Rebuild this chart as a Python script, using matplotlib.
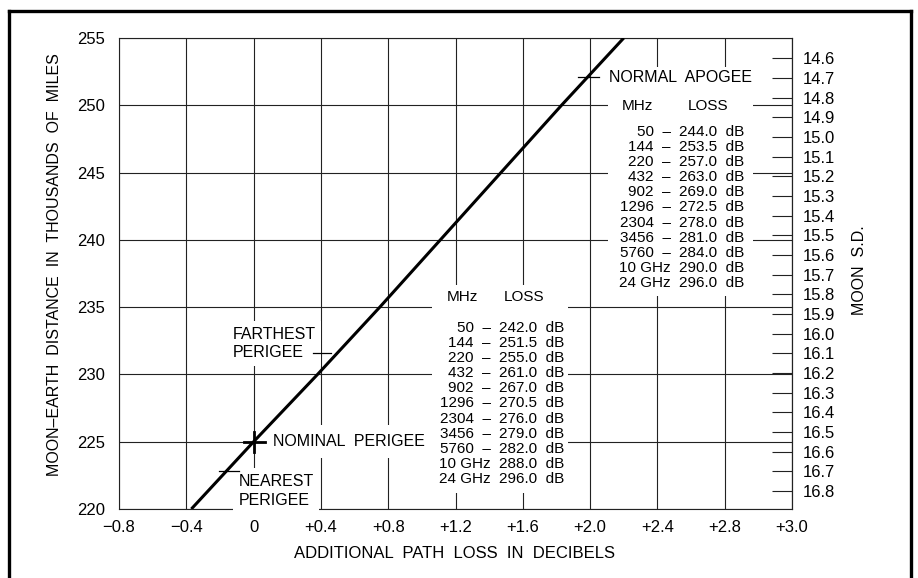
import matplotlib
matplotlib.use("Agg")
import matplotlib.pyplot as plt
from matplotlib.patches import Rectangle
from matplotlib.lines import Line2D

plt.rcParams['font.family'] = ['Liberation Sans', 'DejaVu Sans']

# Moon-Earth distance (thousands of miles) against additional path loss (dB)
distance_k_miles = [220, 225, 230, 235, 240, 245, 250, 255]
added_loss_db = [-0.37, 0.00, 0.38, 0.75, 1.11, 1.47, 1.83, 2.20]

x_ticks = [-0.8, -0.4, 0.0, 0.4, 0.8, 1.2, 1.6, 2.0, 2.4, 2.8, 3.2]
x_tick_labels = ["\u22120.8", "\u22120.4", "0", "+0.4", "+0.8", "+1.2",
                 "+1.6", "+2.0", "+2.4", "+2.8", "+3.0"]
y_ticks = [220, 225, 230, 235, 240, 245, 250, 255]

# Moon semi-diameter scale on the right, tied to the distance scale
moon_sd_ticks = [14.6, 14.7, 14.8, 14.9, 15.0, 15.1, 15.2, 15.3, 15.4, 15.5,
                 15.6, 15.7, 15.8, 15.9, 16.0, 16.1, 16.2, 16.3, 16.4, 16.5,
                 16.6, 16.7, 16.8]
sd_first, dist_at_sd_first = 14.6, 253.5
sd_last, dist_at_sd_last = 16.8, 221.35

# EME path loss tables
freq_labels = ["50", "144", "220", "432", "902", "1296", "2304", "3456",
               "5760", "10 GHz", "24 GHz"]
loss_apogee = [244.0, 253.5, 257.0, 263.0, 269.0, 272.5, 278.0, 281.0,
               284.0, 290.0, 296.0]
loss_perigee = [242.0, 251.5, 255.0, 261.0, 267.0, 270.5, 276.0, 279.0,
                282.0, 288.0, 296.0]

# Orbit reference distances (thousands of miles)
apogee_normal = 252.1
perigee_farthest = 231.6
perigee_nominal = 225.0
perigee_nearest = 222.8

W, H = 918, 578
fig = plt.figure(figsize=(W / 100, H / 100), dpi=100)
ax = fig.add_axes([119 / W, 1 - 509 / H, 673 / W, 471 / H])

ax.set_xlim(-0.8, 3.2)
ax.set_ylim(220, 255)
ax.set_xticks(x_ticks)
ax.set_xticklabels(x_tick_labels)
ax.set_yticks(y_ticks)
ax.tick_params(axis='both', length=0, labelsize=12)
ax.tick_params(axis='y', pad=10)
ax.tick_params(axis='x', pad=8)
ax.set_axisbelow(True)
ax.grid(True, color='#222222', linewidth=0.8)
for s in ax.spines.values():
    s.set_color('#222222')
    s.set_linewidth(0.8)

# main loss line
ax.plot(added_loss_db, distance_k_miles, color='black', linewidth=2.2,
        solid_capstyle='butt', zorder=5)

# white backing behind the two tables
mask = dict(facecolor='white', edgecolor='none', zorder=2)
ax.add_patch(Rectangle((2.105, 235.85), 0.865, 17.0, **mask))
ax.add_patch(Rectangle((1.06, 221.2), 0.81, 15.45, **mask))

row_step = 1.122
tbl_font = 11


def draw_table(x_freq_right, x_loss_left, x_mhz, x_loss_hdr, y_hdr, y_first, losses):
    ax.text(x_mhz, y_hdr, "MHz", ha='center', va='center', fontsize=tbl_font, zorder=6)
    ax.text(x_loss_hdr, y_hdr, "LOSS", ha='center', va='center', fontsize=tbl_font, zorder=6)
    for i, (f, v) in enumerate(zip(freq_labels, losses)):
        y = y_first - i * row_step
        lab = f if "GHz" in f else f + "  \u2013"
        ax.text(x_freq_right, y, lab, ha='right', va='center', fontsize=tbl_font, zorder=6)
        ax.text(x_loss_left, y, f"{v:.1f}  dB", ha='left', va='center',
                fontsize=tbl_font, zorder=6)


draw_table(2.478, 2.526, 2.282, 2.704, 249.95, 248.02, loss_apogee)
draw_table(1.409, 1.456, 1.242, 1.605, 235.76, 233.45, loss_perigee)

# orbit annotations
ann_font = 11.5
box = dict(boxstyle='square,pad=0.35', facecolor='white', edgecolor='none')
ax.text(2.11, apogee_normal, "NORMAL  APOGEE", ha='left', va='center',
        fontsize=ann_font, zorder=6)
ax.text(-0.125, perigee_farthest + 0.7, "FARTHEST\nPERIGEE", ha='left', va='center',
        fontsize=ann_font, linespacing=1.3, bbox=box, zorder=4)
ax.text(0.113, perigee_nominal, "NOMINAL  PERIGEE", ha='left', va='center',
        fontsize=ann_font, bbox=dict(boxstyle='square,pad=0.55', facecolor='white',
                                     edgecolor='none'), zorder=4)
ax.text(-0.089, perigee_nearest - 1.45, "NEAREST\nPERIGEE", ha='left', va='center',
        fontsize=ann_font, linespacing=1.3, bbox=box, zorder=4)

# short horizontal markers at the orbit distances
seg = dict(color='black', linewidth=0.9, zorder=5)
ax.plot([1.93, 2.05], [apogee_normal] * 2, **seg)
ax.plot([0.351, 0.458], [perigee_farthest] * 2, **seg)
ax.plot([-0.208, -0.089], [perigee_nearest] * 2, **seg)
# nominal perigee cross
ax.plot([-0.06, 0.07], [perigee_nominal] * 2, color='black', linewidth=2.0, zorder=6)
ax.plot([0.0, 0.0], [perigee_nominal - 0.8, perigee_nominal + 0.75],
        color='black', linewidth=2.0, zorder=6)

# Moon semi-diameter axis
k = (sd_last - sd_first) / (dist_at_sd_first - dist_at_sd_last)


def dist_to_sd(d):
    return sd_first + (dist_at_sd_first - d) * k


def sd_to_dist(sd):
    return dist_at_sd_first - (sd - sd_first) / k


sec = ax.secondary_yaxis('right', functions=(dist_to_sd, sd_to_dist))
sec.set_yticks(moon_sd_ticks)
sec.set_yticklabels([f"{v:.1f}" for v in moon_sd_ticks])
sec.minorticks_off()
sec.tick_params(axis='y', direction='in', length=14.4, width=0.8, pad=8,
                labelsize=12, color='#222222')
sec.spines['right'].set_color('#222222')
sec.spines['right'].set_linewidth(0.8)

# axis titles
fig.text(55 / W, 1 - 265 / H, "MOON\u2013EARTH  DISTANCE  IN  THOUSANDS  OF  MILES",
         rotation=90, ha='center', va='center', fontsize=11.5)
fig.text(455 / W, 1 - 553 / H, "ADDITIONAL  PATH  LOSS  IN  DECIBELS",
         ha='center', va='center', fontsize=12)
fig.text(860 / W, 1 - 270 / H, "MOON  S.D.", rotation=90, ha='center',
         va='center', fontsize=11.5)

# drawing border
frame = dict(color='black', linewidth=2.4, transform=fig.transFigure)
fig.add_artist(Line2D([8.5 / W, 8.5 / W], [-0.05, 1 - 10.5 / H], **frame))
fig.add_artist(Line2D([911 / W, 911 / W], [-0.05, 1 - 10.5 / H], **frame))
fig.add_artist(Line2D([8.5 / W, 911 / W], [1 - 10.5 / H, 1 - 10.5 / H], **frame))

fig.savefig("out.png", dpi=100)
